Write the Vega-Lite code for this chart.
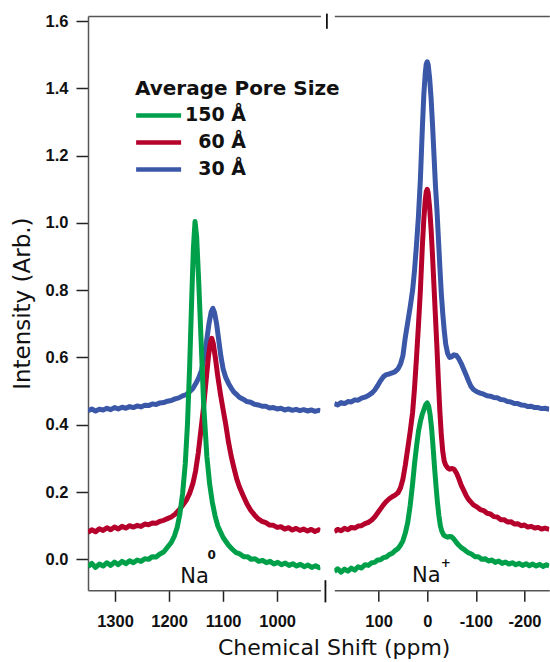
{
  "$schema": "https://vega.github.io/schema/vega-lite/v6.json",
  "padding": {"left": 11, "top": 12, "right": 0, "bottom": 0},
  "background": "white",
  "bounds": "flush",
  "spacing": 13.3,
  "config": {
    "view": {"stroke": null},
    "axis": {
      "labelFont": "Liberation Sans", "labelFontWeight": "bold", "labelFontSize": 16.5, "labelColor": "#111",
      "domainColor": "#555", "domainWidth": 1.5, "tickColor": "#222", "tickWidth": 1.5, "grid": false,
      "titleFont": "DejaVu Sans", "titleFontWeight": "normal", "titleFontSize": 22, "titleColor": "#111"
    }
  },
  "title": {"text": "Chemical Shift (ppm)", "orient": "bottom", "anchor": "middle", "font": "DejaVu Sans", "fontSize": 22, "fontWeight": "normal", "color": "#111", "offset": 8, "dx": 54},
  "datasets": {
    "spectra": [
      {"side":"L","pore":"30 Å","ppm":1350,"value":0.442},{"side":"L","pore":"30 Å","ppm":1343,"value":0.447},{"side":"L","pore":"30 Å","ppm":1336,"value":0.441},{"side":"L","pore":"30 Å","ppm":1329,"value":0.446},{"side":"L","pore":"30 Å","ppm":1322,"value":0.444},{"side":"L","pore":"30 Å","ppm":1315,"value":0.449},{"side":"L","pore":"30 Å","ppm":1308,"value":0.445},{"side":"L","pore":"30 Å","ppm":1301,"value":0.451},{"side":"L","pore":"30 Å","ppm":1294,"value":0.447},{"side":"L","pore":"30 Å","ppm":1287,"value":0.452},{"side":"L","pore":"30 Å","ppm":1280,"value":0.449},{"side":"L","pore":"30 Å","ppm":1273,"value":0.454},{"side":"L","pore":"30 Å","ppm":1266,"value":0.451},{"side":"L","pore":"30 Å","ppm":1259,"value":0.456},{"side":"L","pore":"30 Å","ppm":1252,"value":0.453},{"side":"L","pore":"30 Å","ppm":1245,"value":0.458},{"side":"L","pore":"30 Å","ppm":1238,"value":0.457},{"side":"L","pore":"30 Å","ppm":1231,"value":0.462},{"side":"L","pore":"30 Å","ppm":1224,"value":0.460},{"side":"L","pore":"30 Å","ppm":1217,"value":0.465},{"side":"L","pore":"30 Å","ppm":1210,"value":0.466},{"side":"L","pore":"30 Å","ppm":1203,"value":0.470},{"side":"L","pore":"30 Å","ppm":1196,"value":0.472},{"side":"L","pore":"30 Å","ppm":1189,"value":0.477},{"side":"L","pore":"30 Å","ppm":1182,"value":0.480},{"side":"L","pore":"30 Å","ppm":1175,"value":0.486},{"side":"L","pore":"30 Å","ppm":1168,"value":0.490},{"side":"L","pore":"30 Å","ppm":1162,"value":0.498},{"side":"L","pore":"30 Å","ppm":1156,"value":0.508},{"side":"L","pore":"30 Å","ppm":1150,"value":0.524},{"side":"L","pore":"30 Å","ppm":1145,"value":0.540},{"side":"L","pore":"30 Å","ppm":1140,"value":0.562},{"side":"L","pore":"30 Å","ppm":1135,"value":0.600},{"side":"L","pore":"30 Å","ppm":1130,"value":0.655},{"side":"L","pore":"30 Å","ppm":1126,"value":0.702},{"side":"L","pore":"30 Å","ppm":1122,"value":0.736},{"side":"L","pore":"30 Å","ppm":1119,"value":0.746},{"side":"L","pore":"30 Å","ppm":1116,"value":0.734},{"side":"L","pore":"30 Å","ppm":1112,"value":0.700},{"side":"L","pore":"30 Å","ppm":1108,"value":0.650},{"side":"L","pore":"30 Å","ppm":1104,"value":0.602},{"side":"L","pore":"30 Å","ppm":1100,"value":0.566},{"side":"L","pore":"30 Å","ppm":1095,"value":0.540},{"side":"L","pore":"30 Å","ppm":1090,"value":0.523},{"side":"L","pore":"30 Å","ppm":1085,"value":0.509},{"side":"L","pore":"30 Å","ppm":1080,"value":0.497},{"side":"L","pore":"30 Å","ppm":1075,"value":0.490},{"side":"L","pore":"30 Å","ppm":1070,"value":0.482},{"side":"L","pore":"30 Å","ppm":1063,"value":0.476},{"side":"L","pore":"30 Å","ppm":1056,"value":0.469},{"side":"L","pore":"30 Å","ppm":1049,"value":0.467},{"side":"L","pore":"30 Å","ppm":1042,"value":0.461},{"side":"L","pore":"30 Å","ppm":1035,"value":0.459},{"side":"L","pore":"30 Å","ppm":1028,"value":0.455},{"side":"L","pore":"30 Å","ppm":1021,"value":0.455},{"side":"L","pore":"30 Å","ppm":1014,"value":0.450},{"side":"L","pore":"30 Å","ppm":1007,"value":0.451},{"side":"L","pore":"30 Å","ppm":1000,"value":0.447},{"side":"L","pore":"30 Å","ppm":993,"value":0.449},{"side":"L","pore":"30 Å","ppm":986,"value":0.444},{"side":"L","pore":"30 Å","ppm":979,"value":0.447},{"side":"L","pore":"30 Å","ppm":972,"value":0.443},{"side":"L","pore":"30 Å","ppm":965,"value":0.446},{"side":"L","pore":"30 Å","ppm":958,"value":0.442},{"side":"L","pore":"30 Å","ppm":951,"value":0.445},{"side":"L","pore":"30 Å","ppm":944,"value":0.441},{"side":"L","pore":"30 Å","ppm":937,"value":0.444},{"side":"L","pore":"30 Å","ppm":930,"value":0.440},{"side":"L","pore":"30 Å","ppm":923,"value":0.443},{"side":"L","pore":"30 Å","ppm":920,"value":0.441},
      {"side":"R","pore":"30 Å","ppm":191,"value":0.463},{"side":"R","pore":"30 Å","ppm":184,"value":0.459},{"side":"R","pore":"30 Å","ppm":177,"value":0.466},{"side":"R","pore":"30 Å","ppm":170,"value":0.463},{"side":"R","pore":"30 Å","ppm":163,"value":0.469},{"side":"R","pore":"30 Å","ppm":156,"value":0.468},{"side":"R","pore":"30 Å","ppm":149,"value":0.474},{"side":"R","pore":"30 Å","ppm":142,"value":0.473},{"side":"R","pore":"30 Å","ppm":135,"value":0.479},{"side":"R","pore":"30 Å","ppm":128,"value":0.482},{"side":"R","pore":"30 Å","ppm":121,"value":0.487},{"side":"R","pore":"30 Å","ppm":114,"value":0.494},{"side":"R","pore":"30 Å","ppm":108,"value":0.503},{"side":"R","pore":"30 Å","ppm":102,"value":0.516},{"side":"R","pore":"30 Å","ppm":96,"value":0.531},{"side":"R","pore":"30 Å","ppm":90,"value":0.543},{"side":"R","pore":"30 Å","ppm":84,"value":0.549},{"side":"R","pore":"30 Å","ppm":78,"value":0.551},{"side":"R","pore":"30 Å","ppm":72,"value":0.554},{"side":"R","pore":"30 Å","ppm":66,"value":0.558},{"side":"R","pore":"30 Å","ppm":60,"value":0.566},{"side":"R","pore":"30 Å","ppm":55,"value":0.580},{"side":"R","pore":"30 Å","ppm":50,"value":0.605},{"side":"R","pore":"30 Å","ppm":45,"value":0.660},{"side":"R","pore":"30 Å","ppm":40,"value":0.705},{"side":"R","pore":"30 Å","ppm":35,"value":0.750},{"side":"R","pore":"30 Å","ppm":30,"value":0.800},{"side":"R","pore":"30 Å","ppm":26,"value":0.860},{"side":"R","pore":"30 Å","ppm":22,"value":0.935},{"side":"R","pore":"30 Å","ppm":18,"value":1.020},{"side":"R","pore":"30 Å","ppm":14,"value":1.130},{"side":"R","pore":"30 Å","ppm":10,"value":1.280},{"side":"R","pore":"30 Å","ppm":7,"value":1.380},{"side":"R","pore":"30 Å","ppm":4,"value":1.445},{"side":"R","pore":"30 Å","ppm":2,"value":1.472},{"side":"R","pore":"30 Å","ppm":0,"value":1.479},{"side":"R","pore":"30 Å","ppm":-2,"value":1.470},{"side":"R","pore":"30 Å","ppm":-5,"value":1.430},{"side":"R","pore":"30 Å","ppm":-8,"value":1.370},{"side":"R","pore":"30 Å","ppm":-11,"value":1.290},{"side":"R","pore":"30 Å","ppm":-14,"value":1.200},{"side":"R","pore":"30 Å","ppm":-17,"value":1.110},{"side":"R","pore":"30 Å","ppm":-20,"value":1.040},{"side":"R","pore":"30 Å","ppm":-23,"value":0.955},{"side":"R","pore":"30 Å","ppm":-26,"value":0.870},{"side":"R","pore":"30 Å","ppm":-29,"value":0.790},{"side":"R","pore":"30 Å","ppm":-32,"value":0.730},{"side":"R","pore":"30 Å","ppm":-35,"value":0.680},{"side":"R","pore":"30 Å","ppm":-38,"value":0.640},{"side":"R","pore":"30 Å","ppm":-42,"value":0.612},{"side":"R","pore":"30 Å","ppm":-46,"value":0.600},{"side":"R","pore":"30 Å","ppm":-50,"value":0.602},{"side":"R","pore":"30 Å","ppm":-55,"value":0.608},{"side":"R","pore":"30 Å","ppm":-60,"value":0.606},{"side":"R","pore":"30 Å","ppm":-65,"value":0.596},{"side":"R","pore":"30 Å","ppm":-70,"value":0.582},{"side":"R","pore":"30 Å","ppm":-75,"value":0.565},{"side":"R","pore":"30 Å","ppm":-80,"value":0.548},{"side":"R","pore":"30 Å","ppm":-85,"value":0.530},{"side":"R","pore":"30 Å","ppm":-90,"value":0.514},{"side":"R","pore":"30 Å","ppm":-95,"value":0.505},{"side":"R","pore":"30 Å","ppm":-102,"value":0.498},{"side":"R","pore":"30 Å","ppm":-109,"value":0.494},{"side":"R","pore":"30 Å","ppm":-116,"value":0.491},{"side":"R","pore":"30 Å","ppm":-123,"value":0.486},{"side":"R","pore":"30 Å","ppm":-130,"value":0.485},{"side":"R","pore":"30 Å","ppm":-137,"value":0.481},{"side":"R","pore":"30 Å","ppm":-144,"value":0.480},{"side":"R","pore":"30 Å","ppm":-151,"value":0.475},{"side":"R","pore":"30 Å","ppm":-158,"value":0.474},{"side":"R","pore":"30 Å","ppm":-165,"value":0.469},{"side":"R","pore":"30 Å","ppm":-172,"value":0.468},{"side":"R","pore":"30 Å","ppm":-179,"value":0.463},{"side":"R","pore":"30 Å","ppm":-186,"value":0.463},{"side":"R","pore":"30 Å","ppm":-193,"value":0.459},{"side":"R","pore":"30 Å","ppm":-200,"value":0.458},{"side":"R","pore":"30 Å","ppm":-207,"value":0.454},{"side":"R","pore":"30 Å","ppm":-214,"value":0.455},{"side":"R","pore":"30 Å","ppm":-221,"value":0.451},{"side":"R","pore":"30 Å","ppm":-228,"value":0.451},{"side":"R","pore":"30 Å","ppm":-235,"value":0.448},{"side":"R","pore":"30 Å","ppm":-242,"value":0.449},{"side":"R","pore":"30 Å","ppm":-251,"value":0.446},
      {"side":"L","pore":"60 Å","ppm":1350,"value":0.080},{"side":"L","pore":"60 Å","ppm":1343,"value":0.088},{"side":"L","pore":"60 Å","ppm":1336,"value":0.082},{"side":"L","pore":"60 Å","ppm":1329,"value":0.091},{"side":"L","pore":"60 Å","ppm":1322,"value":0.086},{"side":"L","pore":"60 Å","ppm":1315,"value":0.094},{"side":"L","pore":"60 Å","ppm":1308,"value":0.088},{"side":"L","pore":"60 Å","ppm":1301,"value":0.096},{"side":"L","pore":"60 Å","ppm":1294,"value":0.090},{"side":"L","pore":"60 Å","ppm":1287,"value":0.098},{"side":"L","pore":"60 Å","ppm":1280,"value":0.093},{"side":"L","pore":"60 Å","ppm":1273,"value":0.100},{"side":"L","pore":"60 Å","ppm":1266,"value":0.096},{"side":"L","pore":"60 Å","ppm":1259,"value":0.101},{"side":"L","pore":"60 Å","ppm":1252,"value":0.098},{"side":"L","pore":"60 Å","ppm":1245,"value":0.105},{"side":"L","pore":"60 Å","ppm":1238,"value":0.103},{"side":"L","pore":"60 Å","ppm":1231,"value":0.108},{"side":"L","pore":"60 Å","ppm":1224,"value":0.107},{"side":"L","pore":"60 Å","ppm":1217,"value":0.113},{"side":"L","pore":"60 Å","ppm":1210,"value":0.116},{"side":"L","pore":"60 Å","ppm":1203,"value":0.121},{"side":"L","pore":"60 Å","ppm":1196,"value":0.126},{"side":"L","pore":"60 Å","ppm":1189,"value":0.134},{"side":"L","pore":"60 Å","ppm":1182,"value":0.146},{"side":"L","pore":"60 Å","ppm":1175,"value":0.160},{"side":"L","pore":"60 Å","ppm":1168,"value":0.176},{"side":"L","pore":"60 Å","ppm":1162,"value":0.196},{"side":"L","pore":"60 Å","ppm":1156,"value":0.225},{"side":"L","pore":"60 Å","ppm":1151,"value":0.262},{"side":"L","pore":"60 Å","ppm":1146,"value":0.316},{"side":"L","pore":"60 Å","ppm":1141,"value":0.385},{"side":"L","pore":"60 Å","ppm":1136,"value":0.455},{"side":"L","pore":"60 Å","ppm":1131,"value":0.540},{"side":"L","pore":"60 Å","ppm":1127,"value":0.605},{"side":"L","pore":"60 Å","ppm":1124,"value":0.640},{"side":"L","pore":"60 Å","ppm":1121,"value":0.657},{"side":"L","pore":"60 Å","ppm":1118,"value":0.640},{"side":"L","pore":"60 Å","ppm":1114,"value":0.595},{"side":"L","pore":"60 Å","ppm":1110,"value":0.545},{"side":"L","pore":"60 Å","ppm":1105,"value":0.492},{"side":"L","pore":"60 Å","ppm":1100,"value":0.445},{"side":"L","pore":"60 Å","ppm":1095,"value":0.400},{"side":"L","pore":"60 Å","ppm":1090,"value":0.348},{"side":"L","pore":"60 Å","ppm":1085,"value":0.306},{"side":"L","pore":"60 Å","ppm":1080,"value":0.272},{"side":"L","pore":"60 Å","ppm":1075,"value":0.240},{"side":"L","pore":"60 Å","ppm":1070,"value":0.216},{"side":"L","pore":"60 Å","ppm":1063,"value":0.190},{"side":"L","pore":"60 Å","ppm":1056,"value":0.165},{"side":"L","pore":"60 Å","ppm":1049,"value":0.146},{"side":"L","pore":"60 Å","ppm":1042,"value":0.132},{"side":"L","pore":"60 Å","ppm":1035,"value":0.120},{"side":"L","pore":"60 Å","ppm":1028,"value":0.113},{"side":"L","pore":"60 Å","ppm":1021,"value":0.109},{"side":"L","pore":"60 Å","ppm":1014,"value":0.102},{"side":"L","pore":"60 Å","ppm":1007,"value":0.101},{"side":"L","pore":"60 Å","ppm":1000,"value":0.095},{"side":"L","pore":"60 Å","ppm":993,"value":0.097},{"side":"L","pore":"60 Å","ppm":986,"value":0.090},{"side":"L","pore":"60 Å","ppm":979,"value":0.094},{"side":"L","pore":"60 Å","ppm":972,"value":0.087},{"side":"L","pore":"60 Å","ppm":965,"value":0.092},{"side":"L","pore":"60 Å","ppm":958,"value":0.086},{"side":"L","pore":"60 Å","ppm":951,"value":0.090},{"side":"L","pore":"60 Å","ppm":944,"value":0.084},{"side":"L","pore":"60 Å","ppm":937,"value":0.089},{"side":"L","pore":"60 Å","ppm":930,"value":0.083},{"side":"L","pore":"60 Å","ppm":923,"value":0.088},{"side":"L","pore":"60 Å","ppm":920,"value":0.085},
      {"side":"R","pore":"60 Å","ppm":191,"value":0.082},{"side":"R","pore":"60 Å","ppm":184,"value":0.089},{"side":"R","pore":"60 Å","ppm":177,"value":0.085},{"side":"R","pore":"60 Å","ppm":170,"value":0.092},{"side":"R","pore":"60 Å","ppm":163,"value":0.088},{"side":"R","pore":"60 Å","ppm":156,"value":0.095},{"side":"R","pore":"60 Å","ppm":149,"value":0.093},{"side":"R","pore":"60 Å","ppm":142,"value":0.099},{"side":"R","pore":"60 Å","ppm":135,"value":0.100},{"side":"R","pore":"60 Å","ppm":128,"value":0.106},{"side":"R","pore":"60 Å","ppm":121,"value":0.110},{"side":"R","pore":"60 Å","ppm":114,"value":0.117},{"side":"R","pore":"60 Å","ppm":108,"value":0.126},{"side":"R","pore":"60 Å","ppm":102,"value":0.138},{"side":"R","pore":"60 Å","ppm":96,"value":0.150},{"side":"R","pore":"60 Å","ppm":90,"value":0.162},{"side":"R","pore":"60 Å","ppm":84,"value":0.172},{"side":"R","pore":"60 Å","ppm":78,"value":0.180},{"side":"R","pore":"60 Å","ppm":72,"value":0.186},{"side":"R","pore":"60 Å","ppm":66,"value":0.191},{"side":"R","pore":"60 Å","ppm":60,"value":0.198},{"side":"R","pore":"60 Å","ppm":55,"value":0.212},{"side":"R","pore":"60 Å","ppm":50,"value":0.238},{"side":"R","pore":"60 Å","ppm":45,"value":0.280},{"side":"R","pore":"60 Å","ppm":40,"value":0.330},{"side":"R","pore":"60 Å","ppm":35,"value":0.380},{"side":"R","pore":"60 Å","ppm":30,"value":0.437},{"side":"R","pore":"60 Å","ppm":26,"value":0.510},{"side":"R","pore":"60 Å","ppm":22,"value":0.600},{"side":"R","pore":"60 Å","ppm":18,"value":0.695},{"side":"R","pore":"60 Å","ppm":14,"value":0.800},{"side":"R","pore":"60 Å","ppm":10,"value":0.930},{"side":"R","pore":"60 Å","ppm":7,"value":1.010},{"side":"R","pore":"60 Å","ppm":4,"value":1.068},{"side":"R","pore":"60 Å","ppm":2,"value":1.092},{"side":"R","pore":"60 Å","ppm":0,"value":1.100},{"side":"R","pore":"60 Å","ppm":-2,"value":1.090},{"side":"R","pore":"60 Å","ppm":-5,"value":1.045},{"side":"R","pore":"60 Å","ppm":-8,"value":0.980},{"side":"R","pore":"60 Å","ppm":-11,"value":0.900},{"side":"R","pore":"60 Å","ppm":-14,"value":0.810},{"side":"R","pore":"60 Å","ppm":-17,"value":0.720},{"side":"R","pore":"60 Å","ppm":-20,"value":0.630},{"side":"R","pore":"60 Å","ppm":-23,"value":0.530},{"side":"R","pore":"60 Å","ppm":-26,"value":0.440},{"side":"R","pore":"60 Å","ppm":-29,"value":0.370},{"side":"R","pore":"60 Å","ppm":-32,"value":0.320},{"side":"R","pore":"60 Å","ppm":-35,"value":0.292},{"side":"R","pore":"60 Å","ppm":-38,"value":0.280},{"side":"R","pore":"60 Å","ppm":-42,"value":0.272},{"side":"R","pore":"60 Å","ppm":-46,"value":0.268},{"side":"R","pore":"60 Å","ppm":-50,"value":0.270},{"side":"R","pore":"60 Å","ppm":-55,"value":0.268},{"side":"R","pore":"60 Å","ppm":-60,"value":0.257},{"side":"R","pore":"60 Å","ppm":-65,"value":0.240},{"side":"R","pore":"60 Å","ppm":-70,"value":0.220},{"side":"R","pore":"60 Å","ppm":-75,"value":0.205},{"side":"R","pore":"60 Å","ppm":-80,"value":0.190},{"side":"R","pore":"60 Å","ppm":-85,"value":0.178},{"side":"R","pore":"60 Å","ppm":-90,"value":0.170},{"side":"R","pore":"60 Å","ppm":-95,"value":0.162},{"side":"R","pore":"60 Å","ppm":-102,"value":0.156},{"side":"R","pore":"60 Å","ppm":-109,"value":0.148},{"side":"R","pore":"60 Å","ppm":-116,"value":0.145},{"side":"R","pore":"60 Å","ppm":-123,"value":0.137},{"side":"R","pore":"60 Å","ppm":-130,"value":0.135},{"side":"R","pore":"60 Å","ppm":-137,"value":0.127},{"side":"R","pore":"60 Å","ppm":-144,"value":0.126},{"side":"R","pore":"60 Å","ppm":-151,"value":0.118},{"side":"R","pore":"60 Å","ppm":-158,"value":0.118},{"side":"R","pore":"60 Å","ppm":-165,"value":0.111},{"side":"R","pore":"60 Å","ppm":-172,"value":0.112},{"side":"R","pore":"60 Å","ppm":-179,"value":0.105},{"side":"R","pore":"60 Å","ppm":-186,"value":0.106},{"side":"R","pore":"60 Å","ppm":-193,"value":0.100},{"side":"R","pore":"60 Å","ppm":-200,"value":0.102},{"side":"R","pore":"60 Å","ppm":-207,"value":0.096},{"side":"R","pore":"60 Å","ppm":-214,"value":0.098},{"side":"R","pore":"60 Å","ppm":-221,"value":0.093},{"side":"R","pore":"60 Å","ppm":-228,"value":0.095},{"side":"R","pore":"60 Å","ppm":-235,"value":0.090},{"side":"R","pore":"60 Å","ppm":-242,"value":0.093},{"side":"R","pore":"60 Å","ppm":-251,"value":0.089},
      {"side":"L","pore":"150 Å","ppm":1350,"value":-0.022},{"side":"L","pore":"150 Å","ppm":1343,"value":-0.012},{"side":"L","pore":"150 Å","ppm":1336,"value":-0.024},{"side":"L","pore":"150 Å","ppm":1329,"value":-0.014},{"side":"L","pore":"150 Å","ppm":1322,"value":-0.020},{"side":"L","pore":"150 Å","ppm":1315,"value":-0.010},{"side":"L","pore":"150 Å","ppm":1308,"value":-0.018},{"side":"L","pore":"150 Å","ppm":1301,"value":-0.008},{"side":"L","pore":"150 Å","ppm":1294,"value":-0.016},{"side":"L","pore":"150 Å","ppm":1287,"value":-0.006},{"side":"L","pore":"150 Å","ppm":1280,"value":-0.013},{"side":"L","pore":"150 Å","ppm":1273,"value":-0.004},{"side":"L","pore":"150 Å","ppm":1266,"value":-0.010},{"side":"L","pore":"150 Å","ppm":1259,"value":-0.002},{"side":"L","pore":"150 Å","ppm":1252,"value":-0.006},{"side":"L","pore":"150 Å","ppm":1245,"value":0.002},{"side":"L","pore":"150 Å","ppm":1238,"value":0.000},{"side":"L","pore":"150 Å","ppm":1231,"value":0.008},{"side":"L","pore":"150 Å","ppm":1224,"value":0.007},{"side":"L","pore":"150 Å","ppm":1217,"value":0.016},{"side":"L","pore":"150 Å","ppm":1210,"value":0.022},{"side":"L","pore":"150 Å","ppm":1203,"value":0.036},{"side":"L","pore":"150 Å","ppm":1196,"value":0.050},{"side":"L","pore":"150 Å","ppm":1190,"value":0.070},{"side":"L","pore":"150 Å","ppm":1185,"value":0.095},{"side":"L","pore":"150 Å","ppm":1180,"value":0.135},{"side":"L","pore":"150 Å","ppm":1175,"value":0.195},{"side":"L","pore":"150 Å","ppm":1170,"value":0.285},{"side":"L","pore":"150 Å","ppm":1166,"value":0.400},{"side":"L","pore":"150 Å","ppm":1162,"value":0.570},{"side":"L","pore":"150 Å","ppm":1158,"value":0.780},{"side":"L","pore":"150 Å","ppm":1155,"value":0.925},{"side":"L","pore":"150 Å","ppm":1152,"value":1.004},{"side":"L","pore":"150 Å","ppm":1149,"value":0.960},{"side":"L","pore":"150 Å","ppm":1145,"value":0.820},{"side":"L","pore":"150 Å","ppm":1141,"value":0.660},{"side":"L","pore":"150 Å","ppm":1136,"value":0.460},{"side":"L","pore":"150 Å","ppm":1130,"value":0.305},{"side":"L","pore":"150 Å","ppm":1125,"value":0.225},{"side":"L","pore":"150 Å","ppm":1120,"value":0.170},{"side":"L","pore":"150 Å","ppm":1115,"value":0.130},{"side":"L","pore":"150 Å","ppm":1110,"value":0.100},{"side":"L","pore":"150 Å","ppm":1100,"value":0.065},{"side":"L","pore":"150 Å","ppm":1090,"value":0.042},{"side":"L","pore":"150 Å","ppm":1083,"value":0.030},{"side":"L","pore":"150 Å","ppm":1076,"value":0.020},{"side":"L","pore":"150 Å","ppm":1069,"value":0.016},{"side":"L","pore":"150 Å","ppm":1062,"value":0.008},{"side":"L","pore":"150 Å","ppm":1055,"value":0.008},{"side":"L","pore":"150 Å","ppm":1048,"value":0.000},{"side":"L","pore":"150 Å","ppm":1041,"value":0.002},{"side":"L","pore":"150 Å","ppm":1034,"value":-0.006},{"side":"L","pore":"150 Å","ppm":1027,"value":-0.003},{"side":"L","pore":"150 Å","ppm":1020,"value":-0.010},{"side":"L","pore":"150 Å","ppm":1013,"value":-0.006},{"side":"L","pore":"150 Å","ppm":1006,"value":-0.014},{"side":"L","pore":"150 Å","ppm":999,"value":-0.009},{"side":"L","pore":"150 Å","ppm":992,"value":-0.016},{"side":"L","pore":"150 Å","ppm":985,"value":-0.011},{"side":"L","pore":"150 Å","ppm":978,"value":-0.018},{"side":"L","pore":"150 Å","ppm":971,"value":-0.013},{"side":"L","pore":"150 Å","ppm":964,"value":-0.020},{"side":"L","pore":"150 Å","ppm":957,"value":-0.015},{"side":"L","pore":"150 Å","ppm":950,"value":-0.022},{"side":"L","pore":"150 Å","ppm":943,"value":-0.017},{"side":"L","pore":"150 Å","ppm":936,"value":-0.024},{"side":"L","pore":"150 Å","ppm":929,"value":-0.019},{"side":"L","pore":"150 Å","ppm":922,"value":-0.025},{"side":"L","pore":"150 Å","ppm":920,"value":-0.022},
      {"side":"R","pore":"150 Å","ppm":191,"value":-0.036},{"side":"R","pore":"150 Å","ppm":184,"value":-0.028},{"side":"R","pore":"150 Å","ppm":177,"value":-0.038},{"side":"R","pore":"150 Å","ppm":170,"value":-0.029},{"side":"R","pore":"150 Å","ppm":163,"value":-0.035},{"side":"R","pore":"150 Å","ppm":156,"value":-0.026},{"side":"R","pore":"150 Å","ppm":149,"value":-0.032},{"side":"R","pore":"150 Å","ppm":142,"value":-0.022},{"side":"R","pore":"150 Å","ppm":135,"value":-0.026},{"side":"R","pore":"150 Å","ppm":128,"value":-0.016},{"side":"R","pore":"150 Å","ppm":121,"value":-0.018},{"side":"R","pore":"150 Å","ppm":114,"value":-0.010},{"side":"R","pore":"150 Å","ppm":108,"value":-0.009},{"side":"R","pore":"150 Å","ppm":102,"value":-0.002},{"side":"R","pore":"150 Å","ppm":96,"value":-0.001},{"side":"R","pore":"150 Å","ppm":90,"value":0.005},{"side":"R","pore":"150 Å","ppm":84,"value":0.007},{"side":"R","pore":"150 Å","ppm":78,"value":0.014},{"side":"R","pore":"150 Å","ppm":72,"value":0.018},{"side":"R","pore":"150 Å","ppm":66,"value":0.026},{"side":"R","pore":"150 Å","ppm":60,"value":0.032},{"side":"R","pore":"150 Å","ppm":55,"value":0.042},{"side":"R","pore":"150 Å","ppm":50,"value":0.055},{"side":"R","pore":"150 Å","ppm":45,"value":0.078},{"side":"R","pore":"150 Å","ppm":40,"value":0.110},{"side":"R","pore":"150 Å","ppm":35,"value":0.160},{"side":"R","pore":"150 Å","ppm":30,"value":0.225},{"side":"R","pore":"150 Å","ppm":26,"value":0.285},{"side":"R","pore":"150 Å","ppm":22,"value":0.335},{"side":"R","pore":"150 Å","ppm":18,"value":0.380},{"side":"R","pore":"150 Å","ppm":14,"value":0.410},{"side":"R","pore":"150 Å","ppm":10,"value":0.432},{"side":"R","pore":"150 Å","ppm":6,"value":0.448},{"side":"R","pore":"150 Å","ppm":3,"value":0.460},{"side":"R","pore":"150 Å","ppm":0,"value":0.465},{"side":"R","pore":"150 Å","ppm":-3,"value":0.455},{"side":"R","pore":"150 Å","ppm":-6,"value":0.430},{"side":"R","pore":"150 Å","ppm":-9,"value":0.390},{"side":"R","pore":"150 Å","ppm":-12,"value":0.335},{"side":"R","pore":"150 Å","ppm":-15,"value":0.275},{"side":"R","pore":"150 Å","ppm":-18,"value":0.220},{"side":"R","pore":"150 Å","ppm":-21,"value":0.170},{"side":"R","pore":"150 Å","ppm":-24,"value":0.130},{"side":"R","pore":"150 Å","ppm":-27,"value":0.100},{"side":"R","pore":"150 Å","ppm":-30,"value":0.084},{"side":"R","pore":"150 Å","ppm":-34,"value":0.072},{"side":"R","pore":"150 Å","ppm":-38,"value":0.068},{"side":"R","pore":"150 Å","ppm":-42,"value":0.066},{"side":"R","pore":"150 Å","ppm":-46,"value":0.068},{"side":"R","pore":"150 Å","ppm":-50,"value":0.067},{"side":"R","pore":"150 Å","ppm":-55,"value":0.060},{"side":"R","pore":"150 Å","ppm":-60,"value":0.050},{"side":"R","pore":"150 Å","ppm":-65,"value":0.042},{"side":"R","pore":"150 Å","ppm":-70,"value":0.035},{"side":"R","pore":"150 Å","ppm":-77,"value":0.028},{"side":"R","pore":"150 Å","ppm":-84,"value":0.020},{"side":"R","pore":"150 Å","ppm":-91,"value":0.016},{"side":"R","pore":"150 Å","ppm":-98,"value":0.008},{"side":"R","pore":"150 Å","ppm":-105,"value":0.008},{"side":"R","pore":"150 Å","ppm":-112,"value":0.000},{"side":"R","pore":"150 Å","ppm":-119,"value":0.002},{"side":"R","pore":"150 Å","ppm":-126,"value":-0.005},{"side":"R","pore":"150 Å","ppm":-133,"value":-0.002},{"side":"R","pore":"150 Å","ppm":-140,"value":-0.009},{"side":"R","pore":"150 Å","ppm":-147,"value":-0.005},{"side":"R","pore":"150 Å","ppm":-154,"value":-0.012},{"side":"R","pore":"150 Å","ppm":-161,"value":-0.008},{"side":"R","pore":"150 Å","ppm":-168,"value":-0.014},{"side":"R","pore":"150 Å","ppm":-175,"value":-0.010},{"side":"R","pore":"150 Å","ppm":-182,"value":-0.016},{"side":"R","pore":"150 Å","ppm":-189,"value":-0.012},{"side":"R","pore":"150 Å","ppm":-196,"value":-0.018},{"side":"R","pore":"150 Å","ppm":-203,"value":-0.013},{"side":"R","pore":"150 Å","ppm":-210,"value":-0.019},{"side":"R","pore":"150 Å","ppm":-217,"value":-0.014},{"side":"R","pore":"150 Å","ppm":-224,"value":-0.020},{"side":"R","pore":"150 Å","ppm":-231,"value":-0.015},{"side":"R","pore":"150 Å","ppm":-238,"value":-0.021},{"side":"R","pore":"150 Å","ppm":-245,"value":-0.016},{"side":"R","pore":"150 Å","ppm":-251,"value":-0.020}
    ],
    "labels": [
      {"side":"L","ppm":1153,"value":-0.071,"text":"Na","kind":"base"},
      {"side":"L","ppm":1121,"value":0.012,"text":"0","kind":"sup"},
      {"side":"R","ppm":2,"value":-0.067,"text":"Na","kind":"base"},
      {"side":"R","ppm":-38,"value":-0.012,"text":"+","kind":"sup"}
    ],
    "breaks": [
      {"ppm":908,"value":1.577,"value2":1.622},
      {"ppm":910.7,"value":-0.128,"value2":-0.062}
    ]
  },
  "resolve": {"scale": {"x": "independent", "y": "shared", "color": "shared"}, "axis": {"x": "independent", "y": "independent"}, "legend": {"color": "independent"}},
  "hconcat": [
    {
      "width": 232.4,
      "height": 574.3,
      "resolve": {"axis": {"x": "independent"}},
      "layer": [
        {
          "data": {"name": "spectra"},
          "transform": [{"filter": "datum.side == 'L'"}],
          "mark": {"type": "line", "strokeWidth": 5, "strokeJoin": "round", "clip": true},
          "encoding": {
            "x": {"field": "ppm", "type": "quantitative", "scale": {"domain": [1350, 920], "nice": false, "zero": false},
                  "axis": {"orient": "bottom", "values": [1000, 1100, 1200, 1300], "tickSize": 11, "labelPadding": 12, "title": null, "labelExpr": "'' + datum.value"}},
            "y": {"field": "value", "type": "quantitative", "scale": {"domain": [-0.092, 1.615], "nice": false, "zero": false},
                  "axis": {"values": [0, 0.2, 0.4, 0.6, 0.8, 1.0, 1.2, 1.4, 1.6], "format": ".1f", "tickSize": 12, "labelPadding": 8, "title": "Intensity (Arb.)", "titleFontSize": 23, "titlePadding": 11}},
            "color": {"field": "pore", "type": "nominal",
                      "scale": {"domain": ["150 Å", "60 Å", "30 Å"], "range": ["#00a04b", "#b5002c", "#3a57a8"]},
                      "legend": {"orient": "none", "legendX": 47, "legendY": 63, "title": "Average Pore Size", "padding": 0, "titleLimit": 400, "labelLimit": 300,
                                 "titleFont": "DejaVu Sans", "titleFontWeight": "bold", "titleFontSize": 20, "titleColor": "#111", "titlePadding": 3,
                                 "labelFont": "DejaVu Sans", "labelFontWeight": "bold", "labelFontSize": 19, "labelColor": "#111", "labelAlign": "right",
                                 "symbolType": "M-1.1,0H2.9", "symbolSize": 506, "symbolStrokeWidth": 4.5, "labelOffset": 84, "rowPadding": 3}}
          }
        },
        {
          "data": {"name": "breaks"},
          "mark": {"type": "rule", "color": "#111", "strokeWidth": 1.8},
          "encoding": {
            "x": {"field": "ppm", "type": "quantitative", "axis": {"orient": "top", "labels": false, "ticks": false, "title": null, "domain": true}},
            "y": {"field": "value", "type": "quantitative"},
            "y2": {"field": "value2"}
          }
        },
        {
          "data": {"name": "labels"},
          "transform": [{"filter": "datum.side == 'L' && datum.kind == 'base'"}],
          "mark": {"type": "text", "font": "DejaVu Sans", "fontSize": 21, "baseline": "alphabetic", "align": "center", "color": "#111"},
          "encoding": {
            "x": {"field": "ppm", "type": "quantitative", "axis": null},
            "y": {"field": "value", "type": "quantitative"},
            "text": {"field": "text"}
          }
        },
        {
          "data": {"name": "labels"},
          "transform": [{"filter": "datum.side == 'L' && datum.kind == 'sup'"}],
          "mark": {"type": "text", "font": "DejaVu Sans", "fontWeight": "bold", "fontSize": 12, "baseline": "middle", "align": "center", "color": "#111"},
          "encoding": {
            "x": {"field": "ppm", "type": "quantitative", "axis": null},
            "y": {"field": "value", "type": "quantitative"},
            "text": {"field": "text"}
          }
        }
      ]
    },
    {
      "width": 215,
      "height": 574.3,
      "resolve": {"axis": {"x": "independent"}},
      "layer": [
        {
          "data": {"name": "spectra"},
          "transform": [{"filter": "datum.side == 'R'"}],
          "mark": {"type": "line", "strokeWidth": 5, "strokeJoin": "round", "clip": true},
          "encoding": {
            "x": {"field": "ppm", "type": "quantitative", "scale": {"domain": [191, -251], "nice": false, "zero": false},
                  "axis": {"orient": "bottom", "values": [100, 0, -100, -200], "tickSize": 11, "labelPadding": 12, "title": null, "labelExpr": "'' + datum.value"}},
            "y": {"field": "value", "type": "quantitative", "axis": null},
            "color": {"field": "pore", "type": "nominal", "legend": null}
          }
        },
        {
          "data": {"name": "labels"},
          "transform": [{"filter": "datum.side == 'R' && datum.kind == 'base'"}],
          "mark": {"type": "text", "font": "DejaVu Sans", "fontSize": 21, "baseline": "alphabetic", "align": "center", "color": "#111"},
          "encoding": {
            "x": {"field": "ppm", "type": "quantitative", "axis": {"orient": "top", "labels": false, "ticks": false, "title": null, "domain": true}},
            "y": {"field": "value", "type": "quantitative"},
            "text": {"field": "text"}
          }
        },
        {
          "data": {"name": "labels"},
          "transform": [{"filter": "datum.side == 'R' && datum.kind == 'sup'"}],
          "mark": {"type": "text", "font": "DejaVu Sans", "fontWeight": "bold", "fontSize": 12, "baseline": "middle", "align": "center", "color": "#111"},
          "encoding": {
            "x": {"field": "ppm", "type": "quantitative", "axis": null},
            "y": {"field": "value", "type": "quantitative"},
            "text": {"field": "text"}
          }
        }
      ]
    }
  ]
}
